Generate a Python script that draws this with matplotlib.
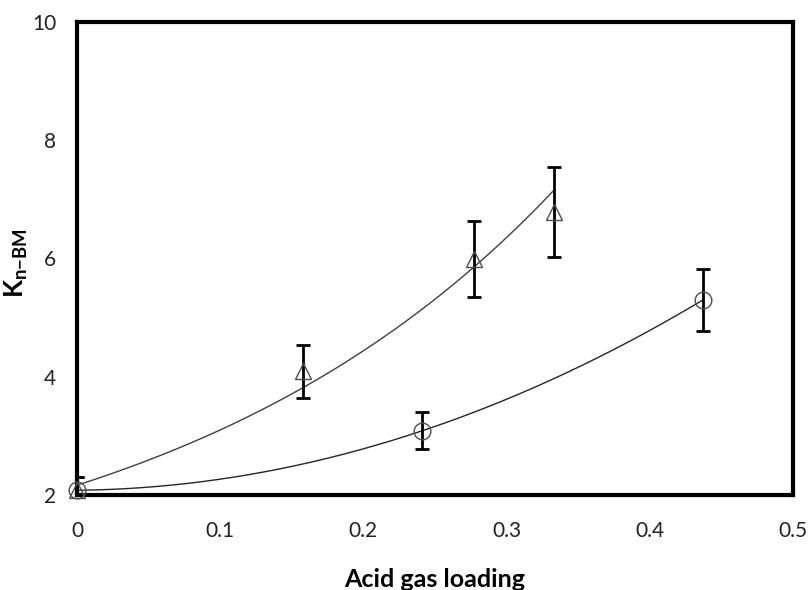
import numpy as np
import matplotlib.pyplot as plt

# Data
tri_x = [0.0, 0.158, 0.277, 0.333]
tri_y = [2.08, 4.09, 5.99, 6.785]
tri_err = [0.23, 0.45, 0.65, 0.755]

circ_x = [0.0, 0.241, 0.437]
circ_y = [2.08, 3.085, 5.295]
circ_err = [0.23, 0.315, 0.525]

xticks = [0, 0.1, 0.2, 0.3, 0.4, 0.5]
xtick_labels = ['0', '0.1', '0.2', '0.3', '0.4', '0.5']
yticks = [2, 4, 6, 8, 10]

plt.rcParams['font.family'] = ['Lato', 'DejaVu Sans']
plt.rcParams['mathtext.fontset'] = 'custom'
plt.rcParams['mathtext.rm'] = 'Lato'
plt.rcParams['mathtext.bf'] = 'Lato:bold'

fig = plt.figure(figsize=(8.08, 5.90), dpi=100)
ax = fig.add_axes([0.0953, 0.161, 0.886, 0.802])

# trend lines: exponential fit for triangles, 2nd order poly for circles
b, a = np.polyfit(tri_x, np.log(tri_y), 1)
xs = np.linspace(0, max(tri_x), 200)
ax.plot(xs, np.exp(a) * np.exp(b * xs), color='0.25', lw=1.0, zorder=2)

p = np.polyfit(circ_x, circ_y, 2)
xs = np.linspace(0, max(circ_x), 200)
ax.plot(xs, np.polyval(p, xs), color='0.15', lw=1.0, zorder=2)

# error bars (clipped at the frame), markers drawn on top unclipped
ax.errorbar(tri_x, tri_y, yerr=tri_err, fmt='none', ecolor='black',
            elinewidth=2, capsize=5, capthick=2, zorder=3)
ax.errorbar(circ_x, circ_y, yerr=circ_err, fmt='none', ecolor='black',
            elinewidth=2, capsize=5, capthick=2, zorder=3)
ax.plot(tri_x, tri_y, '^', ms=11, mfc='none', mec='0.3', mew=1.0,
        clip_on=False, zorder=4)
ax.plot(circ_x, circ_y, 'o', ms=12, mfc='none', mec='0.3', mew=1.0,
        clip_on=False, zorder=4)

ax.set_xlim(0, 0.5)
ax.set_ylim(2, 10)
ax.set_xticks(xticks)
ax.set_xticklabels(xtick_labels)
ax.set_yticks(yticks)
ax.tick_params(axis='both', length=0, labelsize=15, colors='#222222')
ax.tick_params(axis='x', pad=19)
ax.tick_params(axis='y', pad=15)

for s in ax.spines.values():
    s.set_linewidth(3)
    s.set_color('black')

ax.set_xlabel('Acid gas loading', fontsize=18, fontweight='bold')
ax.xaxis.set_label_coords(0.5, -0.155)
ax.set_ylabel(r'$\mathbf{K}_{\mathbf{n{-}BM}}$', fontsize=19)
ax.yaxis.set_label_coords(-0.066, 0.49)

plt.savefig('out.png', dpi=100)
